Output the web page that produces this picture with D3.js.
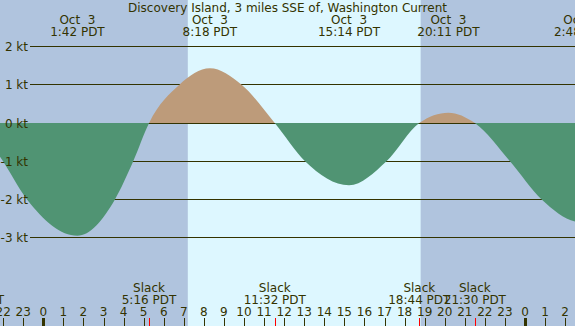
<!DOCTYPE html>
<html>
<head>
<meta charset="utf-8">
<script src="https://cdn.jsdelivr.net/npm/d3@7"></script>
<style>
    body { margin: 0; background: #fff; }
    svg { display: block; font-family: "DejaVu Sans", sans-serif; font-size: 12px; }
    text { white-space: pre; }
</style>
</head>
<body>
<div id="wrapper"></div>
<script>
// current in knots, hours counted from Oct 3 00:00 PDT
const flowHours = [-3.5, -2.16, -0.81, 1.7, 3.57, 4.48, 5.27, 6.78, 8.3, 9.88, 11.53, 13.04, 15.23, 17.1, 18.73, 20.18, 21.5, 23.25, 24.83, 26.8, 28.5]
const flowKnots = [0, -0.88, -2.0, -2.95, -2.0, -1.0, 0, 1.0, 1.43, 1.0, 0, -1.0, -1.63, -1.0, 0, 0.27, 0, -1.0, -2.0, -2.6, -2.2]

// max / min flood and ebb
const peakDays = ["Oct  3", "Oct  3", "Oct  3", "Oct  3", "Oct  4"]
const peakTimes = ["1:42", "8:18", "15:14", "20:11", "2:48"]
const peakDayOffsets = [0, 0, 0, 0, 1]

// slack water
const slackTimes = ["20:30", "5:16", "11:32", "18:44", "21:30"]
const slackDayOffsets = [-1, 0, 0, 0, 0]

const sunrise = "7:12"
const sunset = "18:48"

const knotTicks = [2, 1, 0, -1, -2, -3]
const hourTicks = d3.range(-2, 27)

const title = "Discovery Island, 3 miles SSE of, Washington Current"

function toHour(t, dayOffset) {
    const parts = t.split(":").map(Number)
    return dayOffset * 24 + parts[0] + parts[1] / 60
}

function drawchart() {
    const width = 575
    const height = 326
    const ink = "#333300"

    const parent = d3.select("#wrapper")
    parent.selectAll('*').remove()
    const svg = parent.append("svg")
        .attr("width", width)
        .attr("height", height)

    const xScaler = d3.scaleLinear()
        .domain([-2.157, 26.49])
        .range([0, width])
    const yScaler = d3.scaleLinear()
        .domain([-3, 2])
        .range([237.6, 46.6])

    // night / day shading
    svg.append("rect")
        .attr("width", width)
        .attr("height", height)
        .style("fill", "#b0c4de")
    svg.append("rect")
        .attr("x", xScaler(toHour(sunrise, 0)))
        .attr("width", xScaler(toHour(sunset, 0)) - xScaler(toHour(sunrise, 0)))
        .attr("height", height)
        .style("fill", "#ddf7ff")

    // knot lines
    const lineY = v => Math.floor(yScaler(v)) + 0.5
    svg.append("g")
        .selectAll("line")
        .data(knotTicks)
        .enter().append("line")
        .attr("x1", 30)
        .attr("x2", width)
        .attr("y1", lineY)
        .attr("y2", lineY)
        .style("stroke", ink)
        .style("stroke-width", 1)

    // current curve, ebb below zero and flood above
    const flow = flowHours.map((h, i) => ({h: h, v: flowKnots[i]}))
    const zeroY = Math.floor(yScaler(0))
    const area = d3.area()
        .x(d => xScaler(d.h))
        .y0(yScaler(0))
        .y1(d => yScaler(d.v))
        .curve(d3.curveMonotoneX)

    const defs = svg.append("defs")
    defs.append("clipPath").attr("id", "below")
        .append("rect")
        .attr("x", 0).attr("y", zeroY)
        .attr("width", width).attr("height", height - zeroY)
    defs.append("clipPath").attr("id", "above")
        .append("rect")
        .attr("x", 0).attr("y", 0)
        .attr("width", width).attr("height", zeroY)

    svg.append("path")
        .datum(flow)
        .attr("d", area)
        .attr("clip-path", "url(#below)")
        .style("fill", "#509473")
    svg.append("path")
        .datum(flow)
        .attr("d", area)
        .attr("clip-path", "url(#above)")
        .style("fill", "#bd9b7a")

    // knot labels
    svg.append("g")
        .selectAll("text")
        .data(knotTicks)
        .enter().append("text")
        .attr("x", 28)
        .attr("y", v => lineY(v) + 4.4)
        .attr("text-anchor", "end")
        .style("fill", ink)
        .text(v => v + " kt")

    // title and max / min labels
    svg.append("text")
        .attr("x", width / 2)
        .attr("y", 11.5)
        .attr("text-anchor", "middle")
        .style("fill", ink)
        .text(title)
    const peaks = svg.append("g")
        .selectAll("g")
        .data(peakTimes)
        .enter().append("g")
        .attr("transform", (t, i) => "translate(" + xScaler(toHour(t, peakDayOffsets[i])) + ",0)")
    peaks.append("text")
        .attr("y", 23.7)
        .attr("text-anchor", "middle")
        .style("fill", ink)
        .text((t, i) => peakDays[i])
    peaks.append("text")
        .attr("y", 35.5)
        .attr("text-anchor", "middle")
        .style("fill", ink)
        .text(t => t + " PDT")

    // slack labels
    const slacks = svg.append("g")
        .selectAll("g")
        .data(slackTimes)
        .enter().append("g")
        .attr("transform", (t, i) => "translate(" + xScaler(toHour(t, slackDayOffsets[i])) + ",0)")
    slacks.append("text")
        .attr("y", 292)
        .attr("text-anchor", "middle")
        .style("fill", ink)
        .text("Slack")
    slacks.append("text")
        .attr("y", 303.7)
        .attr("text-anchor", "middle")
        .style("fill", ink)
        .text(t => t + " PDT")

    // hour axis
    svg.append("g")
        .selectAll("text")
        .data(hourTicks)
        .enter().append("text")
        .attr("x", h => xScaler(h))
        .attr("y", 316)
        .attr("text-anchor", "middle")
        .style("fill", ink)
        .text(h => ((h % 24) + 24) % 24)
    svg.append("g")
        .selectAll("line")
        .data(hourTicks)
        .enter().append("line")
        .attr("x1", h => Math.round(xScaler(h)) + 0.5)
        .attr("x2", h => Math.round(xScaler(h)) + 0.5)
        .attr("y1", 318)
        .attr("y2", height)
        .style("stroke", ink)
        .style("stroke-width", h => (h % 24 === 0) ? 3 : 1)
    svg.append("g")
        .selectAll("line")
        .data(slackTimes)
        .enter().append("line")
        .attr("x1", (t, i) => Math.round(xScaler(toHour(t, slackDayOffsets[i]))) + 0.5)
        .attr("x2", (t, i) => Math.round(xScaler(toHour(t, slackDayOffsets[i]))) + 0.5)
        .attr("y1", 318)
        .attr("y2", height)
        .style("stroke", "#ff0000")
        .style("stroke-width", 1)
}
drawchart()
</script>
</body>
</html>
